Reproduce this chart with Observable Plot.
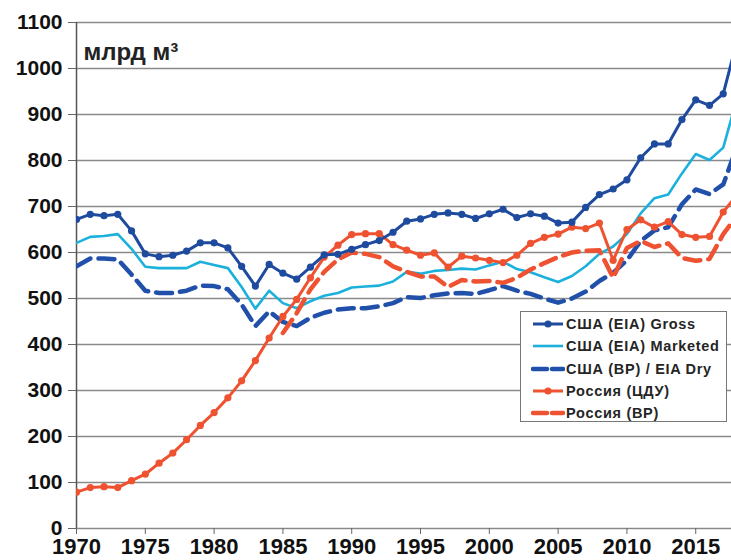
<!DOCTYPE html>
<html>
<head>
<meta charset="utf-8">
<script src="https://cdn.jsdelivr.net/npm/d3@7"></script>
<script src="https://cdn.jsdelivr.net/npm/@observablehq/plot@0.6"></script>
<style>
  html, body { margin: 0; padding: 0; background: #fff; }
  #wrap { position: relative; width: 731px; height: 560px; font-family: "Liberation Sans", Arial, sans-serif; }
  #legend { position: absolute; left: 520px; top: 311px; width: 207px; height: 111px; box-sizing: border-box;
    border: 1.5px solid #777; background: #fff; padding: 1px 0 0 10px; }
  .row { display: flex; align-items: center; height: 22.3px; font-size: 14.5px; font-weight: bold; letter-spacing: 0.7px; color: #252525; white-space: nowrap; }
  .row svg { margin-right: 1px; }
</style>
</head>
<body>
<div id="wrap"></div>
<script>
const years = d3.range(1970, 2019);
const usGross = [672, 683, 680, 683, 647, 597, 591, 594, 603, 621, 621, 610, 570, 527, 574, 555, 542, 568, 595, 596,
  607, 617, 626, 644, 668, 673, 683, 686, 683, 674, 684, 694, 676, 684, 679, 664, 666, 698, 726, 738,
  758, 806, 836, 836, 889, 932, 920, 945, 1060];
const usMarketed = [621, 634, 636, 640, 608, 569, 566, 566, 566, 580, 573, 566, 525, 478, 517, 490, 479, 494, 506, 512,
  524, 526, 528, 537, 558, 554, 560, 562, 565, 563, 572, 580, 564, 557, 546, 536, 549, 570, 597, 613,
  640, 685, 718, 726, 772, 814, 801, 828, 935];
const usDry = [570, 587, 587, 585, 552, 517, 512, 512, 517, 528, 527, 520, 487, 440, 472, 449, 440, 458, 469, 476,
  479, 479, 483, 490, 503, 501, 507, 511, 512, 510, 518, 527, 517, 510, 500, 491, 500, 515, 538, 556,
  583, 625, 648, 655, 705, 737, 727, 748, 830];
const ruCDU = [79, 89, 91, 89, 104, 118, 142, 164, 193, 224, 252, 284, 321, 365, 414, 461, 498, 545, 590, 616,
  639, 641, 641, 617, 605, 594, 599, 568, 592, 588, 583, 578, 594, 620, 633, 640, 655, 652, 664, 583,
  650, 671, 655, 667, 639, 633, 635, 688, 725];
const ruBPYears = d3.range(1985, 2019);
const ruBP = [425, 468, 520, 558, 585, 600, 597, 590, 570, 558, 548, 548, 525, 540, 537, 538, 534, 545, 563, 577,
  590, 600, 604, 605, 545, 610, 625, 612, 620, 588, 582, 586, 640, 680];
const seriesNames = ["США (EIA) Gross", "США (EIA) Marketed", "США (BP) / EIA Dry", "Россия (ЦДУ)", "Россия (BP)"];
const xTicks = d3.range(1970, 2016, 5);
const yTicks = d3.range(0, 1101, 100);
const unitLabel = "млрд м³";

const cDarkBlue = "#1f4b9e", cCyan = "#1cb0dc", cBlue = "#2150ab", cRed = "#ef5230";

const toRows = (xs, vs) => xs.map((x, i) => ({year: x, value: vs[i]}));
const gross = toRows(years, usGross);
const marketed = toRows(years, usMarketed);
const dry = toRows(years, usDry);
const cdu = toRows(years, ruCDU);
const bp = toRows(ruBPYears, ruBP);

const chart = Plot.plot({
  width: 731, height: 560,
  marginLeft: 76, marginRight: 0, marginTop: 22, marginBottom: 32,
  x: {domain: [1970, 2017.6]},
  y: {domain: [0, 1100]},
  style: {fontFamily: "'Liberation Sans', Arial, sans-serif", background: "white", color: "#111"},
  marks: [
    Plot.gridY(yTicks, {stroke: "#8a8a8a", strokeOpacity: 1, strokeWidth: 1.5}),
    Plot.ruleX([1970], {stroke: "#555", strokeWidth: 1.5}),
    Plot.axisY(yTicks, {tickSize: 8, tickPadding: 6, fontSize: 21, fontWeight: "bold", stroke: "#666", label: null, tickFormat: d => String(d)}),
    Plot.axisX(xTicks, {tickSize: 6, tickPadding: 4, fontSize: 22, fontWeight: "bold", stroke: "#666", label: null, tickFormat: d => String(d)}),
    Plot.text([unitLabel], {frameAnchor: "top-left", dx: 7, dy: 20, fontSize: 24, fontWeight: "bold", fill: "#222", textAnchor: "start"}),
    Plot.line(marketed, {x: "year", y: "value", stroke: cCyan, strokeWidth: 2.6, clip: true}),
    Plot.line(dry, {x: "year", y: "value", stroke: cBlue, strokeWidth: 4.5, strokeDasharray: "16,8", strokeLinecap: "round", clip: true}),
    Plot.line(bp, {x: "year", y: "value", stroke: cRed, strokeWidth: 4.5, strokeDasharray: "16,8", strokeLinecap: "round", clip: true}),
    Plot.line(cdu, {x: "year", y: "value", stroke: cRed, strokeWidth: 3, clip: true}),
    Plot.dot(cdu, {x: "year", y: "value", fill: cRed, r: 3.6, clip: true}),
    Plot.line(gross, {x: "year", y: "value", stroke: cDarkBlue, strokeWidth: 3, clip: true}),
    Plot.dot(gross, {x: "year", y: "value", fill: cDarkBlue, r: 3.6, clip: true})
  ]
});

const wrap = document.getElementById("wrap");
wrap.appendChild(chart);

const legendStyles = [
  {color: cDarkBlue, dash: null, dot: true, w: 3},
  {color: cCyan, dash: null, dot: false, w: 2.6},
  {color: cBlue, dash: "14,5", dot: false, w: 4.5},
  {color: cRed, dash: null, dot: true, w: 3},
  {color: cRed, dash: "14,5", dot: false, w: 4.5}
];
const legend = document.createElement("div");
legend.id = "legend";
seriesNames.forEach((name, i) => {
  const s = legendStyles[i];
  const row = document.createElement("div");
  row.className = "row";
  const ns = "http://www.w3.org/2000/svg";
  const svg = document.createElementNS(ns, "svg");
  svg.setAttribute("width", 34); svg.setAttribute("height", 12);
  const line = document.createElementNS(ns, "line");
  line.setAttribute("x1", 2); line.setAttribute("x2", 32); line.setAttribute("y1", 6); line.setAttribute("y2", 6);
  line.setAttribute("stroke", s.color); line.setAttribute("stroke-width", s.w);
  if (s.dash) { line.setAttribute("stroke-dasharray", s.dash); line.setAttribute("stroke-linecap", "round"); }
  svg.appendChild(line);
  if (s.dot) {
    const c = document.createElementNS(ns, "circle");
    c.setAttribute("cx", 17); c.setAttribute("cy", 6); c.setAttribute("r", 3.6); c.setAttribute("fill", s.color);
    svg.appendChild(c);
  }
  row.appendChild(svg);
  const t = document.createElement("span");
  t.textContent = name;
  row.appendChild(t);
  legend.appendChild(row);
});
wrap.appendChild(legend);
</script>
</body>
</html>
